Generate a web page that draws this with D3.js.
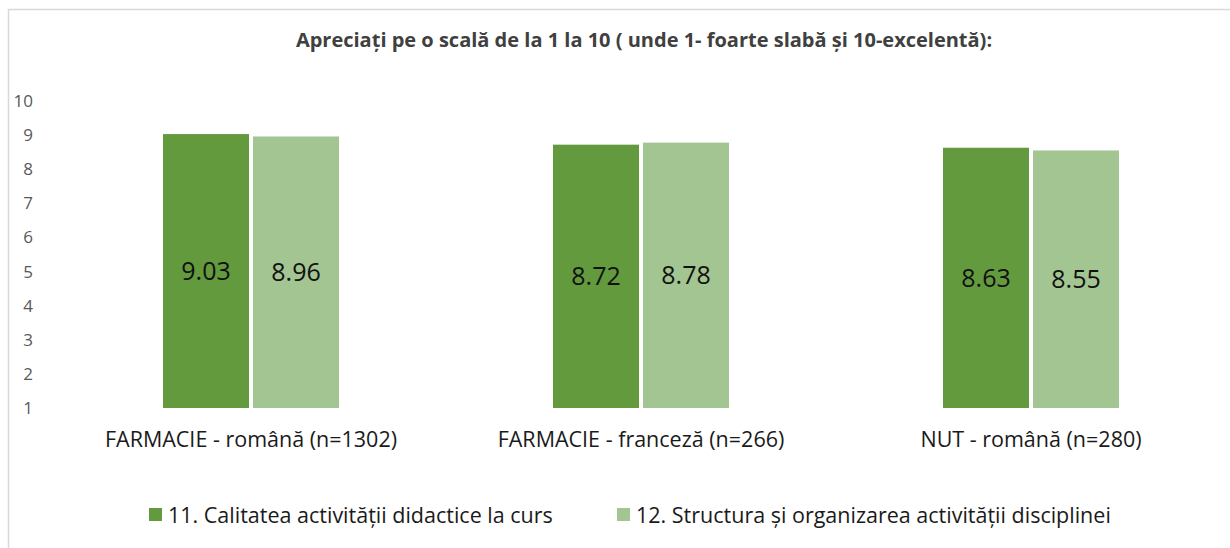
<!DOCTYPE html>
<html>
<head>
<meta charset="utf-8">
<script src="https://cdn.jsdelivr.net/npm/d3@7"></script>
<style>
  body { margin: 0; background: #fff; }
  svg { display: block; font-family: "Open Sans", "Noto Sans", sans-serif; }
</style>
</head>
<body>
<div id="box"></div>
<script>
// data
var categories = ["FARMACIE - română (n=1302)", "FARMACIE - franceză (n=266)", "NUT - română (n=280)"];
var seriesNames = ["11. Calitatea activității didactice la curs", "12. Structura și organizarea activității disciplinei"];
var calitate = [9.03, 8.72, 8.63];
var structura = [8.96, 8.78, 8.55];
var yTicks = [1, 2, 3, 4, 5, 6, 7, 8, 9, 10];
var colors = ["#639a3e", "#a3c591"];
var title = "Apreciați pe o scală de la 1 la 10 ( unde 1- foarte slabă și 10-excelentă):";

var width = 1230, height = 548;

var svg = d3.select("#box")
    .append("svg")
    .attr("width", width)
    .attr("height", height);

// chart border (only left and top visible in the crop)
svg.append("rect")
    .attr("x", 8.5)
    .attr("y", 9.5)
    .attr("width", width + 20)
    .attr("height", height + 20)
    .attr("fill", "#fff")
    .attr("stroke", "#d9d9d9")
    .attr("stroke-width", 1.5);

svg.append("text")
    .attr("x", 644)
    .attr("y", 47)
    .attr("text-anchor", "middle")
    .attr("font-size", 20)
    .attr("font-weight", "bold")
    .attr("fill", "#404040")
    .text(title);

var y = d3.scaleLinear().domain([1, 10]).range([408, 101]);

var x0 = d3.scaleBand().domain(categories).range([56, 1226]);
var x1 = d3.scaleBand().domain([0, 1]).range([0, 176]).paddingInner(0.0444);
var groupOffset = (x0.bandwidth() - 176) / 2;

// y axis labels, no line
var yAxis = svg.append("g")
    .attr("transform", "translate(33,0)")
    .call(d3.axisLeft(y).tickValues(yTicks).tickSize(0).tickPadding(0).tickFormat(d3.format("d")));
yAxis.select(".domain").remove();
yAxis.selectAll("text")
    .attr("font-size", 17)
    .attr("font-family", "'Open Sans', 'Noto Sans', sans-serif")
    .attr("fill", "#595959");

var rows = categories.map(function(c, i) {
    return { cat: c, values: [calitate[i], structura[i]] };
});

var group = svg.selectAll(".group")
    .data(rows)
    .enter()
    .append("g")
    .attr("class", "group")
    .attr("transform", function(d) { return "translate(" + (x0(d.cat) + groupOffset) + ",0)"; });

group.selectAll("rect")
    .data(function(d) { return d.values; })
    .enter()
    .append("rect")
    .attr("x", function(d, i) { return x1(i); })
    .attr("y", function(d) { return y(d); })
    .attr("width", x1.bandwidth())
    .attr("height", function(d) { return y(1) - y(d); })
    .attr("fill", function(d, i) { return colors[i]; });

group.selectAll(".val")
    .data(function(d) { return d.values; })
    .enter()
    .append("text")
    .attr("class", "val")
    .attr("x", function(d, i) { return x1(i) + x1.bandwidth() / 2; })
    .attr("y", function(d) { return (y(d) + y(1)) / 2; })
    .attr("dy", "0.35em")
    .attr("text-anchor", "middle")
    .attr("font-size", 25)
    .attr("fill", "#111")
    .text(function(d) { return d3.format(".2f")(d); });

// category labels
svg.selectAll(".cat")
    .data(categories)
    .enter()
    .append("text")
    .attr("class", "cat")
    .attr("x", function(d) { return x0(d) + x0.bandwidth() / 2; })
    .attr("y", 447)
    .attr("text-anchor", "middle")
    .attr("font-size", 21.5)
    .attr("fill", "#1a1a1a")
    .text(function(d) { return d; });

// legend
var legendX = [149, 617];
var legend = svg.selectAll(".legend")
    .data(seriesNames)
    .enter()
    .append("g")
    .attr("class", "legend")
    .attr("transform", function(d, i) { return "translate(" + legendX[i] + ",508)"; });

legend.append("rect")
    .attr("width", 13)
    .attr("height", 13)
    .attr("fill", function(d, i) { return colors[i]; });

legend.append("text")
    .attr("x", 19)
    .attr("y", 15)
    .attr("font-size", 21.5)
    .attr("fill", "#1a1a1a")
    .text(function(d) { return d; });
</script>
</body>
</html>
